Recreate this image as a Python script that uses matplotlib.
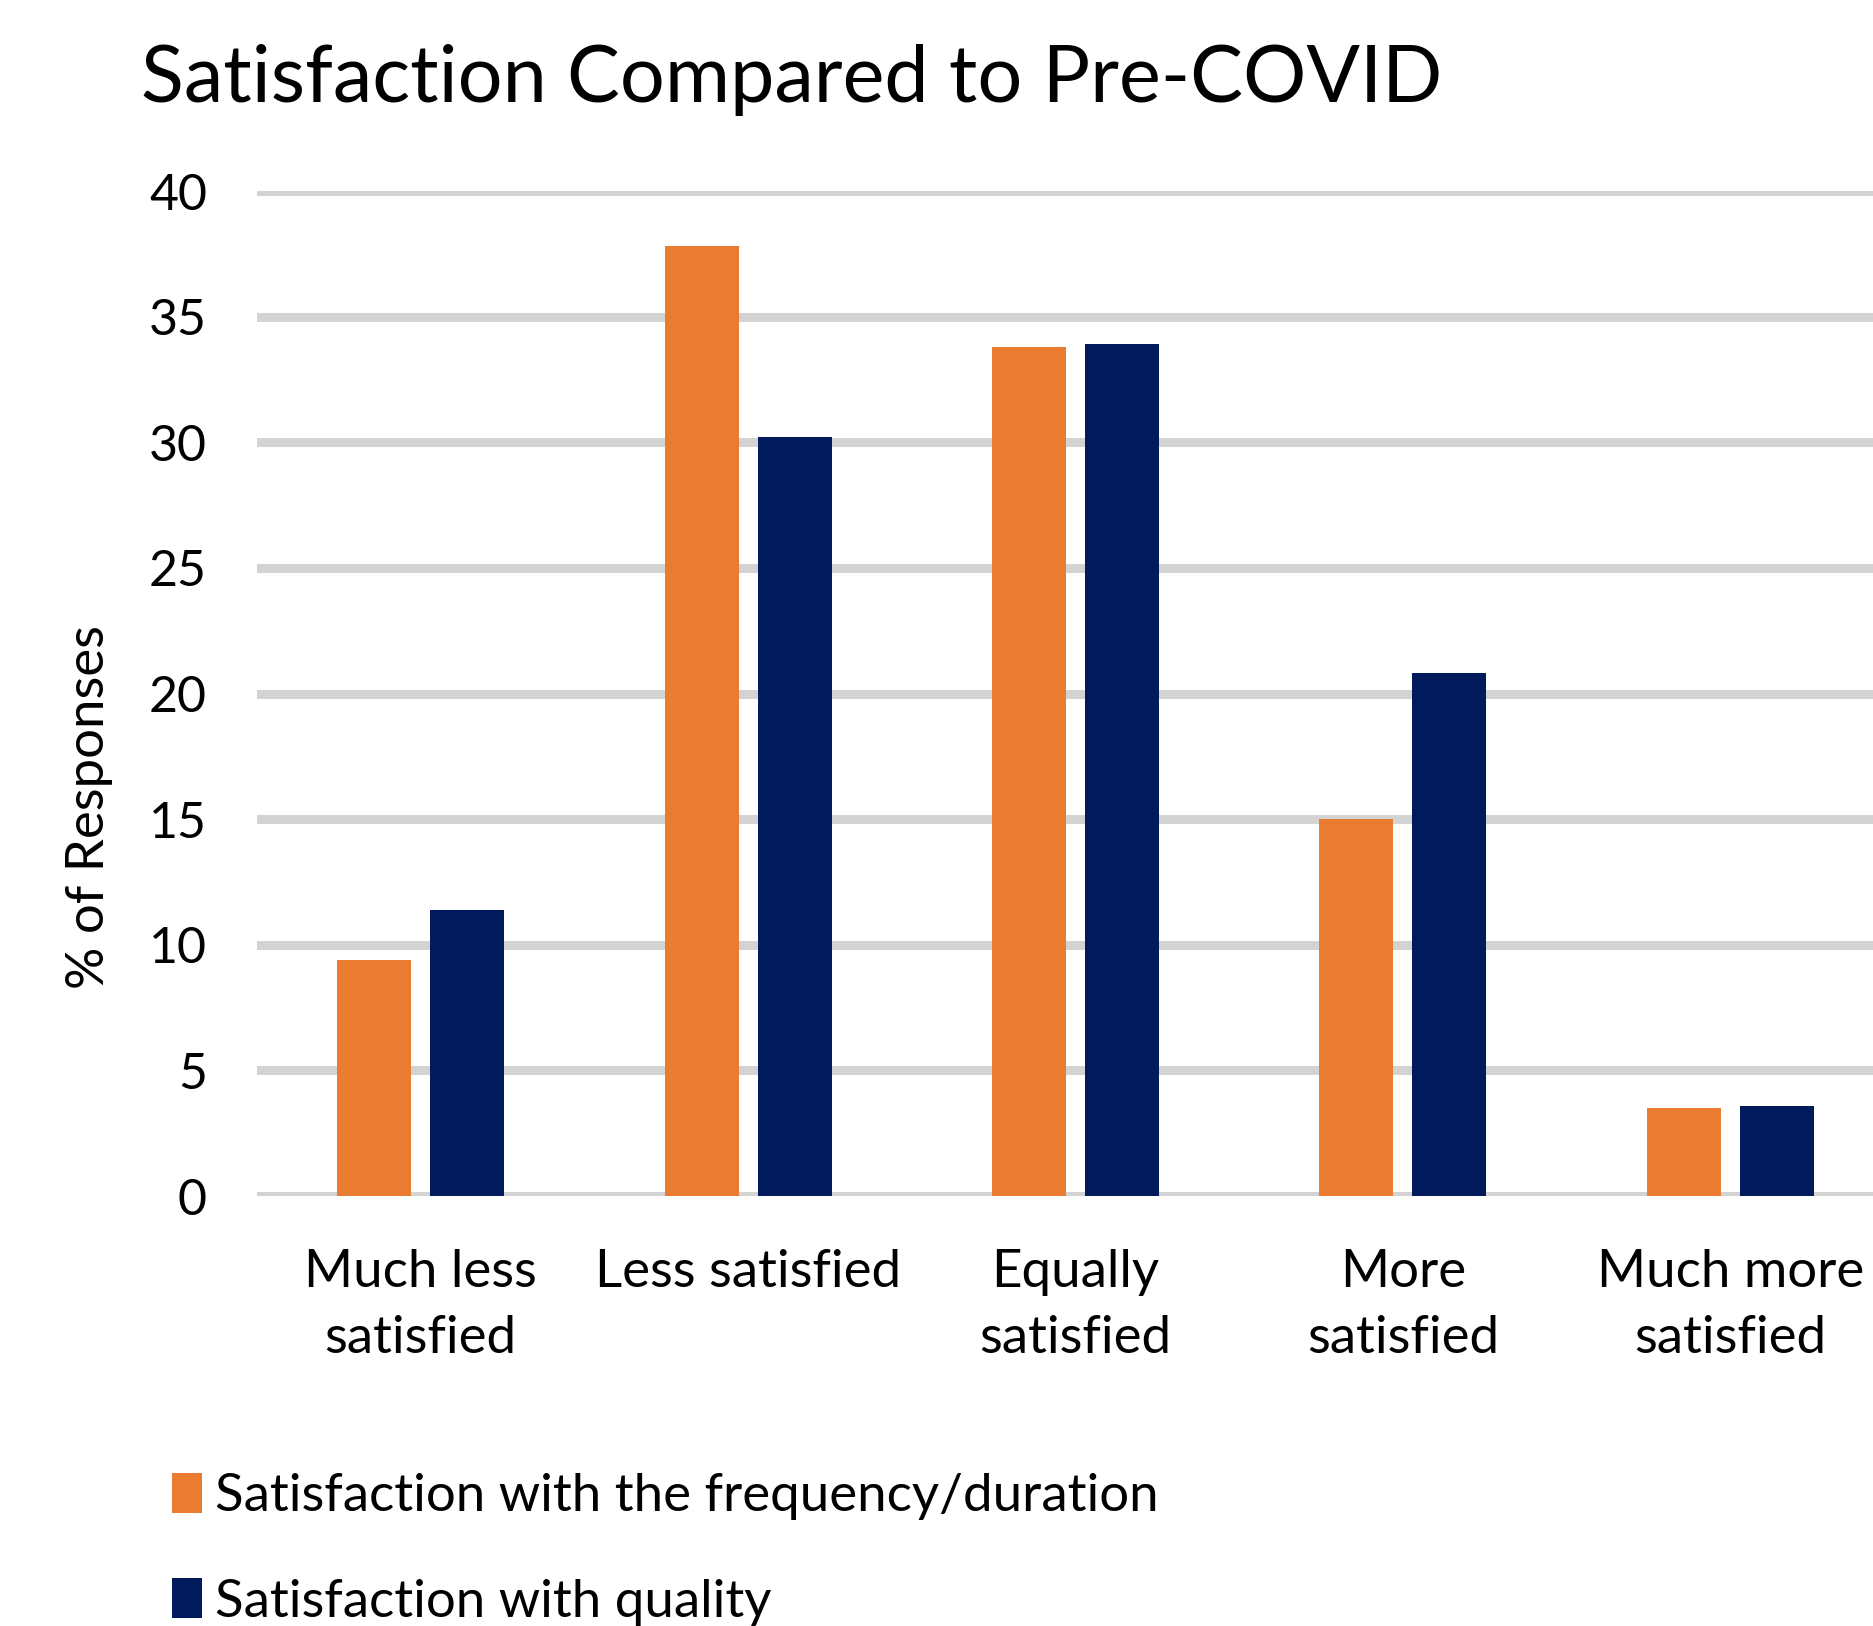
import matplotlib
matplotlib.use("Agg")
import matplotlib.pyplot as plt
import numpy as np

# ---- Data ----
categories = ["Much less\nsatisfied", "Less satisfied", "Equally\nsatisfied",
              "More\nsatisfied", "Much more\nsatisfied"]
freq_duration = [9.4, 37.8, 33.8, 15.0, 3.5]
quality = [11.4, 30.2, 33.9, 20.8, 3.6]
series_names = ["Satisfaction with the frequency/duration",
                "Satisfaction with quality"]
yticks = [0, 5, 10, 15, 20, 25, 30, 35, 40]

orange = "#E97C30"
navy = "#001A5C"
grid_col = "#D3D3D3"

plt.rcParams["font.family"] = ["Lato", "DejaVu Sans"]

W, H = 1874, 1626
fig = plt.figure(figsize=(W / 100, H / 100), dpi=100)
# axes runs slightly past the right edge, as in the cropped original
ax = fig.add_axes([257 / W, 1 - 1196 / H, 1637 / W, (1196 - 191) / H])

x = np.arange(len(categories))
bw = 0.226
off = 0.142
b1 = ax.bar(x - off, freq_duration, bw, color=orange, zorder=3,
            label=series_names[0])
b2 = ax.bar(x + off, quality, bw, color=navy, zorder=3,
            label=series_names[1])

ax.set_xlim(-0.5, len(categories) - 0.5)
ax.set_ylim(0, 40)
ax.set_yticks(yticks)
ax.yaxis.grid(True, color=grid_col, linewidth=6.5, zorder=0)
ax.set_axisbelow(True)
for s in ax.spines.values():
    s.set_visible(False)
ax.tick_params(axis="both", length=0, labelsize=36, labelcolor="black")
ax.tick_params(axis="y", pad=36)
ax.tick_params(axis="x", pad=38)
ax.set_xticks(x)
ax.set_xticklabels(categories, fontsize=38, linespacing=1.5)
ax.set_ylabel("% of Responses", fontsize=38, labelpad=26, y=0.387)

fig.text(141 / W, 1 - 102 / H, "Satisfaction Compared to Pre-COVID",
         fontsize=57, ha="left", va="baseline")

fig.legend(handles=[b1, b2], labels=series_names, loc="upper left",
           bbox_to_anchor=(125 / W, 1 - 1425 / H), frameon=False,
           fontsize=38, handlelength=0.55, handleheight=0.8,
           handletextpad=0.25, labelspacing=1.1)

fig.savefig("out.png", dpi=100)
